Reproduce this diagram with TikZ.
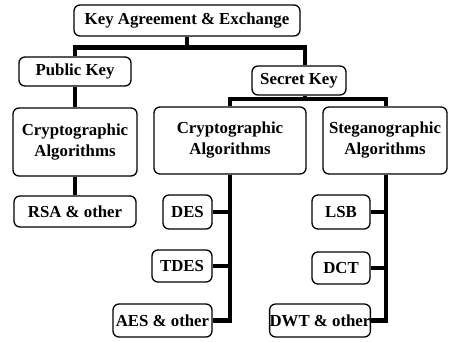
\documentclass[tikz,border=0pt]{standalone}
\usepackage{fontspec}
\setmainfont{Liberation Serif}
\usetikzlibrary{backgrounds}
\begin{document}
\begin{tikzpicture}[x=1pt,y=-1pt,
  box/.style={draw=black,line width=1.3pt,rounded corners=6pt,fill=white,inner sep=0pt,
    font=\fontsize{16.8}{21}\selectfont\bfseries,align=center},
  conn/.style={line width=4.5pt,line cap=butt,line join=miter}]
\useasboundingbox (0,0) rectangle (450,341);
% boxes: (x1,y1)-(x2,y2)
\newcommand\mybox[6]{\node[box,minimum width=#4-#2,minimum height=#5-#3] (#1) at ({(#2+#4)/2},{(#3+#5)/2}) {#6};}
\mybox{top}{74}{5}{300}{36}{Key Agreement \& Exchange}
\mybox{pub}{19}{57}{131}{86}{Public Key}
\mybox{sec}{252}{66}{346}{95}{Secret Key}
\mybox{lcr}{13}{108}{137}{176}{Cryptographic\\Algorithms}
\mybox{mcr}{154}{107}{306}{174}{Cryptographic\\Algorithms}
\mybox{stg}{323}{107}{447}{174}{Steganographic\\Algorithms}
\mybox{rsa}{14}{196}{136}{227}{RSA \& other}
\mybox{des}{163}{195}{212}{229}{DES}
\mybox{tdes}{152}{250}{212}{282}{TDES}
\mybox{aes}{113}{304}{212}{337}{AES \& other}
\mybox{lsb}{312}{195}{370}{229}{LSB}
\mybox{dct}{312}{252}{370}{284}{DCT}
\mybox{dwt}{270}{304}{370}{337}{DWT \& other}
\coordinate (bar1) at (0,47.5);
\coordinate (bar2) at (0,99);
\coordinate (secx) at (305,0);
\coordinate (mcx) at (230,0);
\coordinate (stx) at (386,0);
\begin{scope}[on background layer]
\draw[conn] (top.south) -- (top.south |- bar1) -| (pub.north);
\draw[conn] (top.south |- bar1) -| (secx |- sec.north);
\draw[conn] (pub.south) -- (lcr.north);
\draw[conn] (lcr.south) -- (rsa.north);
\draw[conn] (secx |- sec.south) -- (secx |- bar2);
\draw[conn] (mcx |- mcr.north) -- (mcx |- bar2) -- (stx |- bar2) -- (stx |- stg.north);
\draw[conn] (mcx |- mcr.south) |- (aes.east);
\draw[conn] (des.east) -- (des.east -| mcx);
\draw[conn] (tdes.east) -- (tdes.east -| mcx);
\draw[conn] (stx |- stg.south) |- (dwt.east);
\draw[conn] (lsb.east) -- (lsb.east -| stx);
\draw[conn] (dct.east) -- (dct.east -| stx);
\end{scope}
\end{tikzpicture}
\end{document}
